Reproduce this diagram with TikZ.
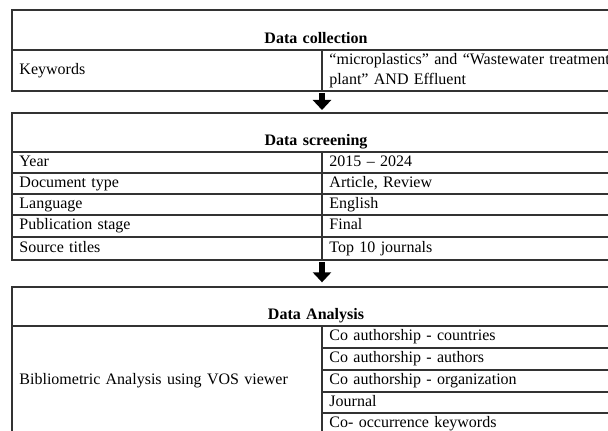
\documentclass[tikz,border=0pt]{standalone}
\usepackage{fontspec}
\setmainfont{Liberation Serif}
\usetikzlibrary{arrows.meta,positioning}
\tikzset{
  cell/.style={rectangle, draw=black!80, line width=0.8pt, anchor=north west, outer sep=0pt, inner xsep=5.6pt, inner ysep=0pt, align=left, font=\fontsize{12pt}{14pt}\selectfont},
  leftcell/.style={cell, text width=221.3pt, minimum width=232.5pt},
  rightcell/.style={cell, text width=212.3pt, minimum width=223.5pt},
  rowcell/.style={text height=8.5pt, text depth=3pt},
  headcell/.style={cell, text width=444.8pt, minimum width=456pt, align=center, text depth=4.5pt, font=\fontsize{12pt}{14pt}\selectfont\bfseries},
  bigarrow/.style={-{Triangle[width=13.5pt,length=7.5pt]}, line width=5pt, black},
}
\begin{document}
\begin{tikzpicture}[x=0.75pt, y=-0.75pt]
  \useasboundingbox (0,0) rectangle (608,431);
  \clip (0,0) rectangle (608,431);

  % Data collection
  \node[headcell, minimum height=30pt, text height=25.5pt] (hcollect) at (12,10) {Data collection};
  \node[leftcell, minimum height=30.75pt, rowcell] (kw) at (12,50) {Keywords};
  \node[rightcell, minimum height=30.75pt, font=\fontsize{12pt}{15.5pt}\selectfont] (kwval) at (322,50) {“microplastics” and “Wastewater treatment\\plant” AND Effluent};

  % Data screening
  \node[headcell, minimum height=29.25pt, text height=24.75pt] (hscreen) at (12,113) {Data screening};
  \node[leftcell, rowcell, minimum height=15.75pt] (year) at (12,152) {Year};
  \node[rightcell, rowcell, minimum height=15.75pt] (yearval) at (322,152) {2015 -- 2024};
  \node[leftcell, rowcell, minimum height=15.75pt] (doctype) at (12,173) {Document type};
  \node[rightcell, rowcell, minimum height=15.75pt] (doctypeval) at (322,173) {Article, Review};
  \node[leftcell, rowcell, minimum height=15.75pt] (lang) at (12,194) {Language};
  \node[rightcell, rowcell, minimum height=15.75pt] (langval) at (322,194) {English};
  \node[leftcell, rowcell, minimum height=16.5pt] (stage) at (12,215) {Publication stage};
  \node[rightcell, rowcell, minimum height=16.5pt] (stageval) at (322,215) {Final};
  \node[leftcell, rowcell, minimum height=17.25pt] (source) at (12,237) {Source titles};
  \node[rightcell, rowcell, minimum height=17.25pt] (sourceval) at (322,237) {Top 10 journals};

  % Data analysis
  \node[headcell, minimum height=29.25pt, text height=24.75pt] (hanalysis) at (12,287) {Data Analysis};
  \node[leftcell, rowcell, minimum height=81.75pt] (biblio) at (12,326) {Bibliometric Analysis using VOS viewer};
  \node[rightcell, rowcell, minimum height=16.5pt] (countries) at (322,326) {Co authorship - countries};
  \node[rightcell, rowcell, minimum height=16.5pt] (authors) at (322,348) {Co authorship - authors};
  \node[rightcell, rowcell, minimum height=16.5pt] (organization) at (322,370) {Co authorship - organization};
  \node[rightcell, rowcell, minimum height=15.75pt] (journal) at (322,392) {Journal};
  \node[rightcell, rowcell, minimum height=16.5pt] (cooccur) at (322,413) {Co- occurrence keywords};

  % Arrows
  \draw[bigarrow, shorten <=1.5pt, shorten >=2.25pt] (kwval.south west) -- (kwval.south west |- hscreen.north);
  \draw[bigarrow, shorten <=1.5pt, shorten >=3.5pt] (sourceval.south west) -- (sourceval.south west |- hanalysis.north);
\end{tikzpicture}
\end{document}
